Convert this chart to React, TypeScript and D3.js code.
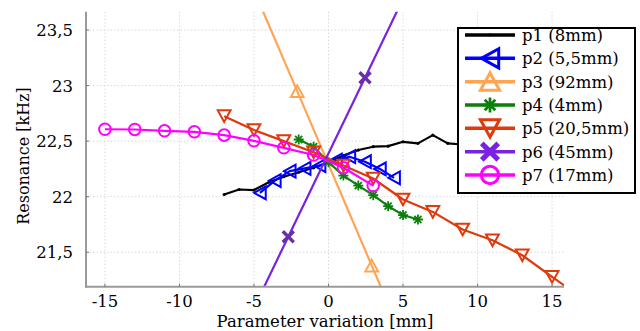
import React, { useEffect } from "react";
import * as d3 from "d3";

const xTicks = [-15, -10, -5, 0, 5, 10, 15];
const yTicks = [21.5, 22, 22.5, 23, 23.5];
const yTickLabels = ["21,5", "22", "22,5", "23", "23,5"];

const seriesNames = ["p1 (8mm)", "p2 (5,5mm)", "p3 (92mm)", "p4 (4mm)", "p5 (20,5mm)", "p6 (45mm)", "p7 (17mm)"];
const seriesColors = ["#000000", "#0000ff", "#ffa552", "#0a800a", "#de3a0c", "#7a22e4", "#ff00ff"];
const seriesMarkers = ["dot", "left", "up", "star", "down", "x", "circle"];

const p1x = [-7, -6, -5, -4, -3, -2, -1, 0, 1, 2, 3, 4, 5, 6, 7, 8, 9, 10];
const p1y = [22.02, 22.065, 22.06, 22.13, 22.18, 22.22, 22.26, 22.31, 22.37, 22.42, 22.45, 22.455, 22.494, 22.48, 22.554, 22.48, 22.47, 22.5];
const p2x = [-4.6, -3.6, -2.6, -1.6, -0.6, 0.5, 1.4, 2.45, 3.45, 4.4];
const p2y = [22.035, 22.145, 22.23, 22.255, 22.28, 22.33, 22.36, 22.315, 22.25, 22.17];
const p3x = [-6, -2.1, 2.9, 6];
const p3y = [24.17, 22.95, 21.38, 20.41];
const p4x = [-2, -1, 0, 1, 2, 3, 4, 5, 6];
const p4y = [22.515, 22.45, 22.31, 22.19, 22.1, 22.014, 21.915, 21.835, 21.795];
const p5x = [-7, -5, -3, -1, 1, 3, 5, 7, 9, 11, 13, 15, 17];
const p5y = [22.725, 22.6, 22.5, 22.4, 22.28, 22.164, 21.975, 21.863, 21.705, 21.608, 21.473, 21.278, 21.09];
const p6x = [-6, -2.7, 2.45, 6];
const p6y = [20.72, 21.64, 23.07, 24.06];
const p7x = [-15, -13, -11, -9, -7, -5, -3, -1, 1, 3];
const p7y = [22.607, 22.605, 22.593, 22.584, 22.554, 22.503, 22.44, 22.375, 22.26, 22.1];

const seriesX = [p1x, p2x, p3x, p4x, p5x, p6x, p7x];
const seriesY = [p1y, p2y, p3y, p4y, p5y, p6y, p7y];

const W = 640, H = 331;
const L = 86, R = 564, T = 11.7, B = 286.7;
const FONT = "DejaVu Serif";

function Marker({ kind, cx, cy, color, s }: { kind: string; cx: number; cy: number; color: string; s: number }) {
  const sw = 2 * s;
  if (kind === "dot") return <circle cx={cx} cy={cy} r={1.6 * s} fill={color} />;
  if (kind === "circle") return <circle cx={cx} cy={cy} r={5.8 * s} fill="none" stroke={color} strokeWidth={sw} />;
  if (kind === "up" || kind === "down" || kind === "left") {
    const a = 6.4 * s, b = 5.8 * s;
    let pts: number[][];
    if (kind === "up") pts = [[cx, cy - b], [cx - a, cy + b], [cx + a, cy + b]];
    else if (kind === "down") pts = [[cx, cy + b], [cx - a, cy - b], [cx + a, cy - b]];
    else pts = [[cx - b, cy], [cx + b, cy - a], [cx + b, cy + a]];
    return <polygon points={pts.map((p) => p.join(",")).join(" ")} fill="none" stroke={color} strokeWidth={sw} strokeLinejoin="miter" />;
  }
  if (kind === "star") {
    const r = 5 * s, d = r * 0.7071;
    return (
      <g stroke={color} strokeWidth={1.8 * s}>
        <line x1={cx - r} y1={cy} x2={cx + r} y2={cy} />
        <line x1={cx} y1={cy - r} x2={cx} y2={cy + r} />
        <line x1={cx - d} y1={cy - d} x2={cx + d} y2={cy + d} />
        <line x1={cx - d} y1={cy + d} x2={cx + d} y2={cy - d} />
      </g>
    );
  }
  if (kind === "x") {
    const r = 5.5 * s;
    return (
      <g stroke={color} strokeWidth={3.4 * s} strokeLinecap="butt">
        <line x1={cx - r} y1={cy - r} x2={cx + r} y2={cy + r} />
        <line x1={cx - r} y1={cy + r} x2={cx + r} y2={cy - r} />
      </g>
    );
  }
  return null;
}

export default function App() {
  useEffect(() => {
    document.body.style.margin = "0";
  }, []);

  const x = d3.scaleLinear().domain([-16.27, 15.8]).range([L, R]);
  const y = d3.scaleLinear().domain([21.19, 23.665]).range([B, T]);
  const line = d3.line<[number, number]>().x((d) => x(d[0])).y((d) => y(d[1]));

  const legX0 = 458, legY0 = 28, legW = 177, legH = 165;
  const legRowY = d3.scaleLinear().domain([0, 6]).range([35, 175]);

  return (
    <svg width={W} height={H} style={{ position: "absolute", left: 0, top: 0 }} fontFamily={FONT}>
      <rect x={0} y={0} width={W} height={H} fill="#fff" />
      <defs>
        <clipPath id="plotclip">
          <rect x={L} y={T} width={R - L} height={B - T} />
        </clipPath>
      </defs>
      <g stroke="#d9d9d9" strokeWidth={1} strokeDasharray="1.5,2">
        {xTicks.map((t) => (
          <line key={"gx" + t} x1={x(t)} x2={x(t)} y1={T} y2={B} />
        ))}
        {yTicks.map((t) => (
          <line key={"gy" + t} x1={L} x2={R} y1={y(t)} y2={y(t)} />
        ))}
      </g>
      <g clipPath="url(#plotclip)">
        {seriesX.map((xs, i) => {
          const pts: [number, number][] = xs.map((v, j) => [v, seriesY[i][j]]);
          const mcol = i === 5 ? "#6a2eac" : seriesColors[i];
          return (
            <g key={"s" + i}>
              <path d={line(pts) || ""} fill="none" stroke={seriesColors[i]} strokeWidth={2.2} strokeLinejoin="round" />
              {pts.map((p, j) => (
                <Marker key={j} kind={seriesMarkers[i]} cx={x(p[0])} cy={y(p[1])} color={mcol} s={1} />
              ))}
            </g>
          );
        })}
      </g>
      <g stroke="#9a9a9a" strokeWidth={2} fill="none">
        <line x1={L} x2={L} y1={T} y2={B + 1} />
        <line x1={L - 1} x2={R} y1={B} y2={B} />
      </g>
      <g stroke="#777" strokeWidth={1}>
        {xTicks.map((t) => (
          <line key={"tx" + t} x1={x(t)} x2={x(t)} y1={B} y2={B - 3} />
        ))}
        {yTicks.map((t) => (
          <line key={"ty" + t} x1={L} x2={L + 3} y1={y(t)} y2={y(t)} />
        ))}
      </g>
      <g fontSize={16.5} fill="#000">
        {xTicks.map((t) => (
          <text key={"lx" + t} x={x(t)} y={307} textAnchor="middle">
            {t}
          </text>
        ))}
        {yTicks.map((t, i) => (
          <text key={"ly" + t} x={73} y={y(t) + 6} textAnchor="end">
            {yTickLabels[i]}
          </text>
        ))}
      </g>
      <text x={(L + R) / 2} y={327} textAnchor="middle" fontSize={16.5} fill="#000">
        Parameter variation [mm]
      </text>
      <text transform={`translate(29,156) rotate(-90)`} textAnchor="middle" fontSize={16} fill="#000">
        Resonance [kHz]
      </text>
      <rect x={legX0} y={legY0} width={legW} height={legH} fill="#fff" stroke="#000" strokeWidth={2} />
      {seriesNames.map((n, i) => {
        const yy = legRowY(i);
        return (
          <g key={"lg" + i}>
            <line x1={465} x2={515} y1={yy} y2={yy} stroke={seriesColors[i]} strokeWidth={3.5} />
            <Marker kind={seriesMarkers[i]} cx={490} cy={yy} color={seriesColors[i]} s={i === 0 ? 0.9 : 1.5} />
            <text x={522} y={yy + 6} fontSize={16.5} fill="#000">
              {n}
            </text>
          </g>
        );
      })}
    </svg>
  );
}
